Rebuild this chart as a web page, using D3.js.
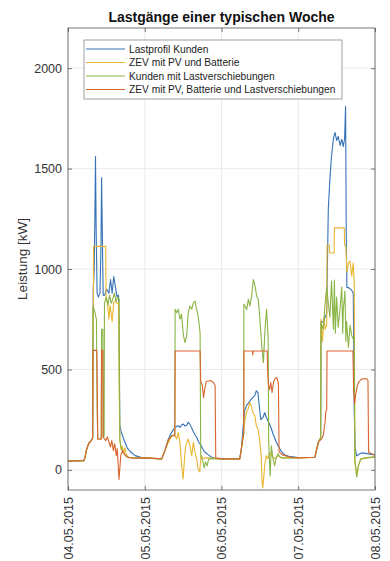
<!DOCTYPE html>
<html><head><meta charset="utf-8">
<script src="https://cdn.jsdelivr.net/npm/d3@7"></script>
<style>body{margin:0;background:#fff;} text{font-family:"Liberation Sans",Arial,sans-serif;}</style>
</head><body><svg id="c" width="390" height="561"></svg>
<script>
const chartTitle = "Lastgänge einer typischen Woche";
const yLabel = "Leistung [kW]";
const xTickHours = [0, 24, 48, 72, 96];
const xTickLabels = ["04.05.2015", "05.05.2015", "06.05.2015", "07.05.2015", "08.05.2015"];
const yTicks = [0, 500, 1000, 1500, 2000];
const seriesNames = ["Lastprofil Kunden", "ZEV mit PV und Batterie", "Kunden mit Lastverschiebungen", "ZEV mit PV, Batterie und Lastverschiebungen"];
const seriesColors = ["#3572b8", "#e9b630", "#8ab545", "#d9642e"];

// [hour since 04.05.2015 00:00, kW]
const lastprofil = [[0,45],[4.9,46],[5.3,60],[5.7,95],[6.1,115],[6.6,135],[7.2,145],[7.7,160],
 [7.9,900],[8.2,1000],[8.4,1250],[8.6,1560],[8.8,1200],[9.1,880],[9.5,860],[10.0,880],[10.3,1100],[10.5,1455],[10.8,1100],[11.0,870],[11.5,870],[12.0,900],[12.3,895],[12.8,880],[13.3,948],[13.8,880],[14.3,963],[14.8,914],[15.3,863],[15.8,870],[16.0,600],[16.2,220],[16.6,190],[17.5,150],[18.5,110],[19.6,89],[21,71],[23,62],[24,60],
 [26,58],[29.3,55],[30.3,96],[31.4,154],[32.4,187],[33.5,212],[34.5,220],[35.0,212],[35.6,225],[36.1,228],[36.6,218],[37.1,222],[37.6,237],[38.1,228],[38.7,208],[39.2,190],[39.7,175],[40.3,160],[40.8,140],[41.5,125],[42.3,100],[42.8,89],[43.9,75],[44.9,63],[46,58],[48,55],
 [53.7,55],[54.2,104],[54.7,200],[55.2,290],[55.8,320],[56.3,330],[57.3,352],[57.8,360],[58.4,370],[58.9,394],[59.4,385],[59.9,303],[60.3,250],[61.0,262],[61.5,285],[62.0,262],[62.5,245],[63.1,225],[63.6,205],[64.1,180],[64.6,160],[65.1,140],[65.7,120],[66.7,92],[67.7,75],[69,68],[72,62],
 [77.2,63],[77.8,105],[78.3,138],[79.0,160],[79.15,740],[79.8,735],[80.4,760],[80.9,780],[81.1,1000],[81.4,1300],[81.9,1450],[82.4,1560],[83.0,1650],[83.5,1680],[84.0,1640],[84.5,1660],[85.1,1615],[85.6,1645],[86.1,1610],[86.5,1650],[86.8,1810],[87.0,1200],[87.2,910],[88.0,905],[88.7,895],[89.2,880],[89.5,300],[89.8,110],[90.3,70],[91,78],[92,85],[94,80],[96,75]];

const zevPvBatterie = [[0,45],[4.9,46],[5.3,60],[5.7,95],[6.1,115],[6.6,135],[7.2,145],[7.7,160],[7.9,700],[8.0,1113],[11.8,1113],[11.9,850],[12.3,830],[12.8,750],[13.1,820],[13.4,790],[13.8,738],[14.3,834],[14.8,840],[15.3,830],[15.8,834],[16.0,400],[16.2,150],[16.6,100],[17.0,119],[17.4,85],[17.8,110],[18.3,75],[19,62],[24,60],
 [29.3,55],[30.3,96],[31.4,137],[32.4,170],[33.5,170],[34.0,154],[34.5,187],[35.0,137],[35.5,30],[36.0,-45],[36.4,50],[36.8,121],[37.6,154],[38.1,121],[38.7,71],[39.2,137],[39.7,88],[40.2,55],[40.7,5],[41.2,-10],[41.6,71],[42.3,55],[43,60],[48,55],
 [53.7,55],[54.2,100],[54.7,154],[55.2,237],[55.8,286],[56.3,303],[56.8,336],[57.3,319],[57.8,286],[58.4,270],[58.9,220],[59.4,204],[59.9,154],[60.4,71],[60.7,-60],[60.9,-90],[61.2,-40],[61.5,21],[62.0,71],[62.5,55],[63.1,88],[63.6,71],[64.6,55],[65.7,71],[66.7,60],[72,60],
 [77.2,63],[77.8,105],[78.3,138],[79.0,160],[79.1,750],[79.6,640],[80.0,760],[80.4,700],[80.9,720],[81.0,1120],[81.7,1120],[81.8,1080],[83.2,1080],[83.3,1205],[86.4,1205],[86.5,1120],[86.9,1110],[87.2,985],[87.7,1030],[88.2,1040],[88.7,965],[89.2,1030],[89.5,930],[89.7,40],[90.3,-30],[90.8,20],[91.5,50],[92.5,60],[96,65]];

const kundenLv = [[0,45],[4.9,46],[5.3,60],[5.7,95],[6.1,115],[6.6,135],[7.2,145],[7.7,155],[7.8,815],[8.3,790],[8.9,750],[9.1,300],[9.3,154],[10.4,154],[10.5,700],[10.9,700],[11.0,160],[11.3,170],[11.4,830],[12.0,860],[12.5,820],[13.0,870],[13.5,830],[14.0,850],[14.5,880],[15.0,840],[15.5,860],[16.0,850],[16.2,154],[16.6,110],[17.2,90],[18,70],[19,62],[24,60],
 [29.3,55],[30.3,96],[31.4,150],[32.4,170],[33.4,175],[33.5,800],[34.0,782],[34.5,800],[35.0,750],[35.5,775],[36.1,667],[36.6,634],[37.1,667],[37.6,782],[38.1,816],[38.7,800],[39.2,832],[39.7,840],[40.2,800],[40.7,766],[41.3,683],[41.5,71],[42.2,40],[42.6,10],[43.0,40],[43.5,20],[44,55],[48,55],
 [53.7,55],[54.2,104],[54.7,160],[54.95,180],[55.0,824],[55.35,816],[55.9,799],[56.4,849],[56.9,816],[57.4,865],[57.95,948],[58.5,915],[59.0,865],[59.5,849],[60.0,750],[60.6,617],[61.1,534],[61.6,700],[62.1,799],[62.6,650],[62.75,140],[63.2,-30],[63.6,120],[64.1,55],[64.6,20],[65.1,60],[65.7,80],[66.2,65],[67,60],[72,60],
 [77.2,63],[77.8,105],[78.3,138],[79.0,160],[79.1,730],[79.8,700],[80.4,830],[80.9,910],[81.4,830],[81.9,760],[82.4,940],[83.0,700],[83.3,945],[83.6,680],[84.0,860],[84.5,710],[85.1,810],[85.6,910],[85.9,680],[86.1,800],[86.6,890],[86.9,640],[87.1,740],[87.7,610],[88.2,720],[88.7,670],[89.2,650],[89.5,660],[89.7,50],[90.3,-35],[90.8,20],[91.5,55],[96,65]];

const zevPvBatLv = [[0,45],[4.9,46],[5.3,60],[5.7,95],[6.1,115],[6.6,135],[7.2,145],[7.7,155],[7.8,595],[9.0,595],[9.1,516],[9.3,154],[10.4,154],[10.5,595],[10.9,595],[11.0,164],[11.8,146],[12.3,164],[12.8,139],[13.3,114],[13.7,146],[14.2,96],[14.6,130],[15.1,71],[15.4,106],[15.95,-48],[16.5,71],[17.0,95],[17.6,80],[18.5,63],[20,58],[24,60],
 [29.3,55],[30.3,96],[31.4,150],[32.4,170],[33.4,170],[33.5,592],[41.3,592],[41.5,440],[42.0,420],[42.4,360],[42.7,400],[43.2,440],[44.5,445],[45.5,435],[46.0,420],[46.2,60],[48,55],
 [53.7,55],[54.2,104],[54.7,160],[54.95,180],[55.0,592],[57.7,592],[57.8,572],[57.9,592],[62.3,592],[62.4,500],[62.7,420],[63.0,400],[63.4,435],[63.8,385],[64.3,440],[64.8,455],[65.3,460],[65.8,430],[66.0,90],[67,75],[70,62],[72,60],
 [77.2,63],[77.8,105],[78.3,138],[79.3,154],[79.8,171],[80.4,240],[80.6,290],[80.9,300],[81.0,592],[89.1,592],[89.3,400],[89.6,330],[90.0,380],[90.5,420],[91.0,440],[91.8,452],[93.4,455],[93.8,445],[94.0,89],[95,79],[96,75]];

const seriesData = [lastprofil, zevPvBatterie, kundenLv, zevPvBatLv];

const W = 390, H = 561;
const m = {left: 68, right: 15, top: 28, bottom: 71};
const svg = d3.select("#c");
const x = d3.scaleLinear().domain([0, 96]).range([m.left, W - m.right]);
const y = d3.scaleLinear().domain([-100, 2200]).range([H - m.bottom, m.top]);

svg.append("rect").attr("width", W).attr("height", H).attr("fill", "#fff");

// grid
const grid = svg.append("g").attr("stroke", "#e6e6e6").attr("stroke-width", 0.8);
grid.selectAll(".gy").data(yTicks).join("line")
  .attr("x1", m.left).attr("x2", W - m.right).attr("y1", d => y(d)).attr("y2", d => y(d));
grid.selectAll(".gx").data(xTickHours).join("line")
  .attr("y1", m.top).attr("y2", H - m.bottom).attr("x1", d => x(d)).attr("x2", d => x(d));

// lines
svg.append("clipPath").attr("id", "clip").append("rect")
  .attr("x", m.left).attr("y", m.top).attr("width", W - m.left - m.right).attr("height", H - m.top - m.bottom);
const line = d3.line().x(d => x(d[0])).y(d => y(d[1]));
svg.append("g").attr("clip-path", "url(#clip)")
  .selectAll("path").data(seriesData).join("path")
  .attr("d", line).attr("fill", "none")
  .attr("stroke", (d, i) => seriesColors[i]).attr("stroke-width", 1.1).attr("stroke-linejoin", "round");

// axes
const axColor = "#555";
function styleAxis(g) {
  g.select(".domain").remove();
  g.selectAll(".tick line").attr("stroke", axColor).attr("stroke-width", 0.8);
  g.selectAll(".tick text").attr("fill", "#333").style("font-size", "12.5px").style("font-family", "'Liberation Sans',Arial,sans-serif");
}
svg.append("g").attr("transform", `translate(${m.left},0)`)
  .call(d3.axisLeft(y).tickValues(yTicks).tickSize(-4).tickPadding(6).tickFormat(d3.format("d"))).call(styleAxis);
svg.append("g").attr("transform", `translate(${W - m.right},0)`)
  .call(d3.axisRight(y).tickValues(yTicks).tickSize(-4).tickFormat("")).call(styleAxis);
const xb = svg.append("g").attr("transform", `translate(0,${H - m.bottom})`)
  .call(d3.axisBottom(x).tickValues(xTickHours).tickSize(-4).tickFormat((d, i) => xTickLabels[i])).call(styleAxis);
xb.selectAll(".tick text").attr("transform", "rotate(-90)").attr("x", -7).attr("y", 0).attr("dy", "0.35em").style("text-anchor", "end");
svg.append("g").attr("transform", `translate(0,${m.top})`)
  .call(d3.axisTop(x).tickValues(xTickHours).tickSize(-4).tickFormat("")).call(styleAxis);
svg.append("rect").attr("x", m.left).attr("y", m.top).attr("width", W - m.left - m.right).attr("height", H - m.top - m.bottom)
  .attr("fill", "none").attr("stroke", axColor).attr("stroke-width", 0.8);

// labels
svg.append("text").attr("x", (m.left + W - m.right) / 2).attr("y", 22).attr("text-anchor", "middle")
  .style("font-size", "14px").style("font-weight", "bold").attr("fill", "#111").text(chartTitle);
svg.append("text").attr("transform", `translate(27,${(m.top + H - m.bottom) / 2}) rotate(-90)`).attr("text-anchor", "middle")
  .style("font-size", "13.5px").attr("fill", "#333").text(yLabel);

// legend
const lg = svg.append("g");
lg.append("rect").attr("x", 84).attr("y", 40).attr("width", 258).attr("height", 59)
  .attr("fill", "#fff").attr("stroke", "#888").attr("stroke-width", 0.8);
const rows = lg.selectAll(".row").data(seriesNames).join("g")
  .attr("transform", (d, i) => `translate(0,${49 + i * 13.5})`);
rows.append("line").attr("x1", 86).attr("x2", 125).attr("stroke", (d, i) => seriesColors[i]).attr("stroke-width", 1.1);
rows.append("text").attr("x", 129).attr("dy", "0.35em").style("font-size", "10.2px").attr("fill", "#222").text(d => d);
</script></body></html>
